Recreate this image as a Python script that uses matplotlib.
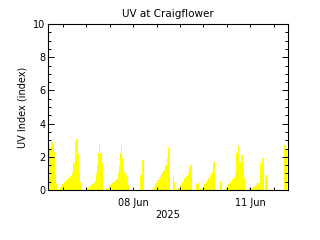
"""uv_craigflower.py

UV index at Craigflower, early June 2025.
x is days since 05 Jun 2025 00:00, values read off the station plot.
"""

import numpy as np
import matplotlib
matplotlib.use('Agg')
import matplotlib.pyplot as plt
from matplotlib.ticker import FixedLocator, MultipleLocator

# time (days since 05 Jun) and UV index, one row per daylight hump
days = [
    0.831, 0.862, 0.893, 0.918, 0.944, 0.977, 1.003, 1.028, 1.062,
    1.087, 1.131, 1.182, 1.234, 1.285, 1.336, 1.387, 1.431, 1.452, 1.472,
    1.503, 1.523, 1.541, 1.567, 1.580, 1.593, 1.618, 1.644, 1.662,
    1.772, 1.823, 1.875, 1.926, 1.977, 2.016, 2.054, 2.080, 2.105, 2.131,
    2.149, 2.169, 2.190, 2.208, 2.226, 2.241,
    2.285, 2.336, 2.387, 2.439, 2.490, 2.541, 2.593, 2.626, 2.644, 2.669,
    2.695, 2.721, 2.746, 2.772, 2.798, 2.823, 2.849, 2.875, 2.893,
    3.190, 3.216, 3.241, 3.267, 3.285,
    3.482, 3.516, 3.567, 3.618, 3.669, 3.721, 3.772, 3.823, 3.857, 3.882,
    3.908, 3.934,
    4.021, 4.046, 4.080,
    4.123, 4.157, 4.208, 4.259, 4.310, 4.362, 4.413, 4.439, 4.464, 4.490,
    4.508,
    4.618, 4.644, 4.677,
    4.721, 4.772, 4.823, 4.875, 4.926, 4.977, 5.016, 5.041, 5.080, 5.105,
    5.216, 5.246, 5.277,
    5.344, 5.387, 5.439, 5.490, 5.541, 5.593, 5.618, 5.644, 5.677, 5.713,
    5.746, 5.772, 5.805, 5.831, 5.875,
    5.934, 5.977, 6.028, 6.080, 6.131, 6.182, 6.241, 6.277, 6.310, 6.344,
    6.387, 6.421, 6.446,
    6.857, 6.875, 6.908, 6.944,
]
uv_index = [
    2.5, 2.6, 2.9, 2.9, 2.75, 2.3, 0.9, 0.4, 0.0,
    0.05, 0.2, 0.35, 0.5, 0.6, 0.7, 0.85, 1.0, 1.3, 1.6,
    2.2, 2.9, 3.05, 3.05, 2.7, 2.15, 1.1, 0.5, 0.0,
    0.05, 0.15, 0.25, 0.35, 0.45, 0.6, 1.0, 1.5, 2.2, 2.8,
    2.2, 2.0, 2.2, 1.6, 0.8, 0.0,
    0.05, 0.15, 0.3, 0.4, 0.5, 0.6, 0.75, 1.0, 1.5, 2.2,
    2.65, 1.9, 1.4, 1.1, 0.6, 0.9, 0.8, 0.3, 0.0,
    0.9, 0.3, 1.8, 1.0, 0.0,
    0.05, 0.2, 0.4, 0.6, 0.8, 1.0, 1.2, 1.5, 1.9, 2.6,
    2.2, 0.0,
    0.9, 0.5, 0.0,
    0.05, 0.15, 0.3, 0.5, 0.7, 0.85, 1.05, 1.3, 1.5, 1.5,
    0.0,
    0.35, 0.45, 0.0,
    0.05, 0.15, 0.35, 0.55, 0.7, 0.9, 1.1, 1.7, 1.7, 0.0,
    0.55, 0.4, 0.0,
    0.05, 0.2, 0.35, 0.5, 0.65, 0.8, 1.0, 2.25, 2.65, 1.6,
    1.7, 2.1, 1.3, 0.7, 0.0,
    0.05, 0.1, 0.15, 0.2, 0.3, 0.4, 1.6, 1.5, 1.9, 0.0,
    0.9, 0.7, 0.0,
    0.4, 2.7, 2.5, 2.45,
]

x_range = (0.831, 6.965)
tick_days = [3.0, 6.0]
tick_labels = ['08 Jun', '11 Jun']
minor_days = np.arange(1.2, 6.7, 0.6)

fig = plt.figure(figsize=(3.2, 2.4), dpi=100)
ax = fig.add_axes([0.151, 0.2083, 0.749, 0.6917])

t = np.array(days)
v = np.array(uv_index)
ax.fill_between(t, v, 0, step='post', color='#ffff00', lw=0)

ax.set_xlim(*x_range)
ax.set_ylim(0, 10)

ax.xaxis.set_major_locator(FixedLocator(tick_days))
ax.set_xticklabels(tick_labels)
ax.xaxis.set_minor_locator(FixedLocator(minor_days))
ax.yaxis.set_major_locator(MultipleLocator(2))
ax.yaxis.set_minor_locator(MultipleLocator(0.5))

ax.tick_params(which='both', direction='in', top=True, right=True,
               width=0.7, colors='black', labelsize=7)
ax.tick_params(axis='x', which='both', length=2.5, pad=5.5)
ax.tick_params(axis='y', which='major', length=4, pad=2)
ax.tick_params(axis='y', which='minor', length=2)

for s in ax.spines.values():
    s.set_linewidth(0.8)

ax.set_title('UV at Craigflower', fontsize=7.5, pad=5)
ax.set_xlabel('2025', fontsize=7, labelpad=2)
ax.set_ylabel('UV Index (index)', fontsize=7, labelpad=4)

fig.savefig('out.png', dpi=100)
